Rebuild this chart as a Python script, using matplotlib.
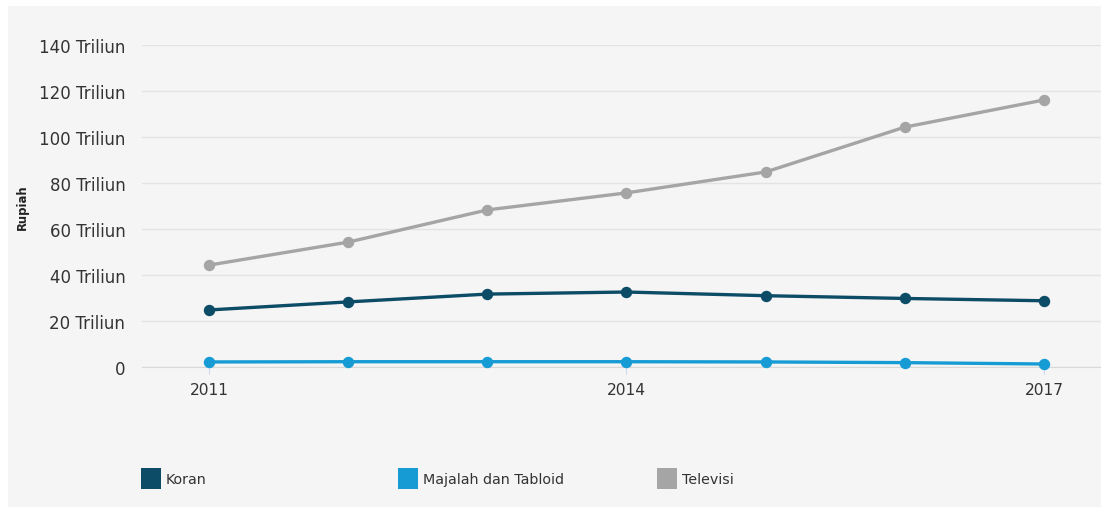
import matplotlib
matplotlib.use("Agg")
import matplotlib.pyplot as plt
from matplotlib.patches import Rectangle

plt.rcParams["font.family"] = ["DejaVu Sans"]

years = [2011, 2012, 2013, 2014, 2015, 2016, 2017]
koran = [24.8, 28.3, 31.7, 32.6, 31.0, 29.8, 28.8]
majalah = [2.2, 2.3, 2.3, 2.3, 2.2, 1.9, 1.3]
televisi = [44.3, 54.3, 68.3, 75.7, 84.8, 104.3, 116.1]
series_names = ["Koran", "Majalah dan Tabloid", "Televisi"]
colors = ["#0c4c66", "#169bd5", "#a5a5a5"]
yticks = [0, 20, 40, 60, 80, 100, 120, 140]
ytick_labels = ["0", "20 Triliun", "40 Triliun", "60 Triliun", "80 Triliun",
                "100 Triliun", "120 Triliun", "140 Triliun"]
xticks = [2011, 2014, 2017]

W, H = 1101, 510
fig = plt.figure(figsize=(W / 100, H / 100), dpi=100)
fig.patch.set_facecolor("white")
fig.add_artist(Rectangle((8 / W, 1 - 508 / H), (W - 8) / W, (508 - 7) / H,
                         transform=fig.transFigure, facecolor="#f5f5f5",
                         edgecolor="none", zorder=0))

left, right = 142, 1101
top, bottom = 46, 368
ax = fig.add_axes([left / W, 1 - bottom / H, (right - left) / W, (bottom - top) / H])
ax.set_facecolor("none")
ax.set_xlim(2011 - 67 / 139.17, 2017 + 57 / 139.17)
ax.set_ylim(0, 140)
ax.set_yticks(yticks)
ax.set_yticklabels(ytick_labels)
ax.set_xticks(xticks)
ax.set_xticklabels([str(x) for x in xticks])
ax.grid(axis="y", color="#e3e3e3", linewidth=1)
ax.set_axisbelow(True)
for s in ["top", "right", "left"]:
    ax.spines[s].set_visible(False)
ax.spines["bottom"].set_color("#d8d8d8")
ax.tick_params(axis="y", length=0, pad=12, labelsize=12, labelcolor="#333333")
ax.tick_params(axis="x", length=5, color="#cfd8e8", pad=6, labelsize=11.2,
               labelcolor="#333333")

for vals, c in zip([koran, majalah, televisi], colors):
    ax.plot(years, vals, color=c, linewidth=2.4, marker="o", markersize=7.2,
            clip_on=False, zorder=3)

fig.text(22 / W, 1 - 207 / H, "Rupiah", rotation=90, fontsize=8.4,
         fontweight="bold", color="#222222", ha="center", va="center")

legend_x = [141, 398, 657]
for x, name, c in zip(legend_x, series_names, colors):
    fig.add_artist(Rectangle((x / W, 1 - 490 / H), 20 / W, 21 / H,
                             transform=fig.transFigure, facecolor=c,
                             edgecolor="none"))
    fig.text((x + 25) / W, 1 - 480 / H, name, fontsize=10.3, color="#333333",
             ha="left", va="center")

fig.savefig("out.png", dpi=100, facecolor="white")
